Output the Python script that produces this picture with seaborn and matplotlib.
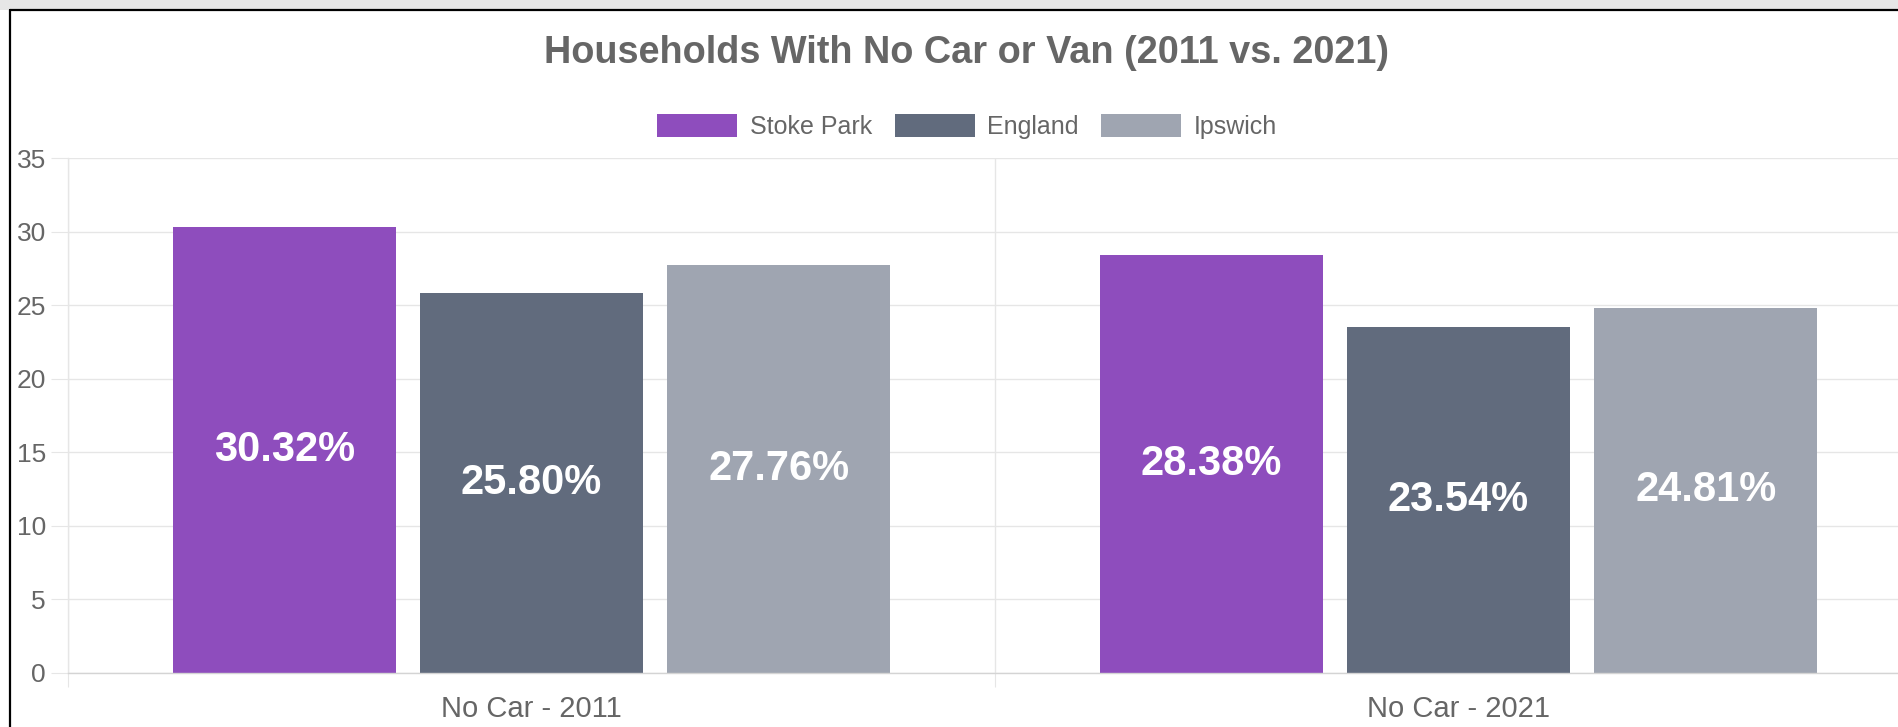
import numpy as np
import pandas as pd
import matplotlib.pyplot as plt
import seaborn as sns
from matplotlib.lines import Line2D
from matplotlib.patches import Rectangle

sns.set_style('white')
plt.rcParams['font.family'] = ['Liberation Sans', 'DejaVu Sans']

#%% Data
categories = ['No Car - 2011', 'No Car - 2021']
areas = ['Stoke Park', 'England', 'Ipswich']
stoke_park = [30.32, 28.38]
england = [25.80, 23.54]
ipswich = [27.76, 24.81]
area_colors = ['#8e4dbd', '#616b7d', '#9fa5b1']
y_ticks = [0, 5, 10, 15, 20, 25, 30, 35]

df = pd.DataFrame({
    'Category': categories * 3,
    'Area': [a for a in areas for _ in categories],
    'Value': stoke_park + england + ipswich,
})

#%% Figure
W, H = 1898, 727
fig = plt.figure(figsize=(W / 100, H / 100), dpi=100)
grid_c = '#e6e6e6'
text_c = '#666666'

# axes: left at 68px, zero at 673px, 35 at 158px; right side runs past the canvas
ax = fig.add_axes([68 / W, 1 - 673 / H, (1922 - 68) / W, (673 - 158) / H])
sns.barplot(data=df, x='Category', y='Value', hue='Area', hue_order=areas,
            palette=area_colors, width=0.8, gap=0.1, linewidth=0,
            saturation=1, legend=False, ax=ax)

for cont in ax.containers:
    ax.bar_label(cont, labels=[f'{v:.2f}%' for v in cont.datavalues],
                 label_type='center', color='white', fontsize=30,
                 fontweight='bold')

ax.set_xlim(-0.5, 1.5)
ax.set_ylim(0, 35)
ax.set_yticks(y_ticks)
ax.set_xticks([-0.5, 0.5, 1.5], minor=True)
ax.set_xlabel('')
ax.set_ylabel('')

ax.grid(axis='y', color=grid_c, linewidth=1)
ax.grid(axis='x', which='minor', color=grid_c, linewidth=1)
ax.set_axisbelow(True)
ax.tick_params(axis='y', length=12, color=grid_c, width=0.8, pad=4,
               labelsize=19, labelcolor=text_c, left=True)
ax.tick_params(axis='x', which='major', length=0, pad=16,
               labelsize=21, labelcolor=text_c)
ax.tick_params(axis='x', which='minor', length=10, color=grid_c,
               width=0.8, bottom=True)
for side in ['top', 'right']:
    ax.spines[side].set_visible(False)
ax.spines['left'].set_color(grid_c)
ax.spines['left'].set_linewidth(1)
ax.spines['bottom'].set_color('#d4d4d4')
ax.spines['bottom'].set_linewidth(1)

#%% Title and legend
fig.text(966 / W, 1 - 63 / H, 'Households With No Car or Van (2011 vs. 2021)',
         ha='center', va='baseline', fontsize=27.3, fontweight='bold',
         color=text_c)

handles = [Rectangle((0, 0), 1, 1, facecolor=c, edgecolor='none')
           for c in area_colors]
fig.legend(handles, areas, loc='center', bbox_to_anchor=(967 / W, 1 - 126.5 / H),
           ncol=3, frameon=False, fontsize=18, labelcolor=text_c,
           handlelength=3.2, handleheight=1.0, handletextpad=0.5,
           columnspacing=0.9)

#%% Page frame: grey strip on top and black border
fig.patches.append(Rectangle((0, 1 - 10 / H), 1, 10 / H, transform=fig.transFigure,
                             facecolor='#e6e6e6', edgecolor='none', zorder=5))
fig.lines.append(Line2D([10 / W, 10 / W], [0, 1 - 10 / H], transform=fig.transFigure,
                        color='black', linewidth=1.6, zorder=6))
fig.lines.append(Line2D([10 / W, 1], [1 - 10 / H, 1 - 10 / H], transform=fig.transFigure,
                        color='black', linewidth=1.6, zorder=6))

fig.savefig('out.png', dpi=100)
